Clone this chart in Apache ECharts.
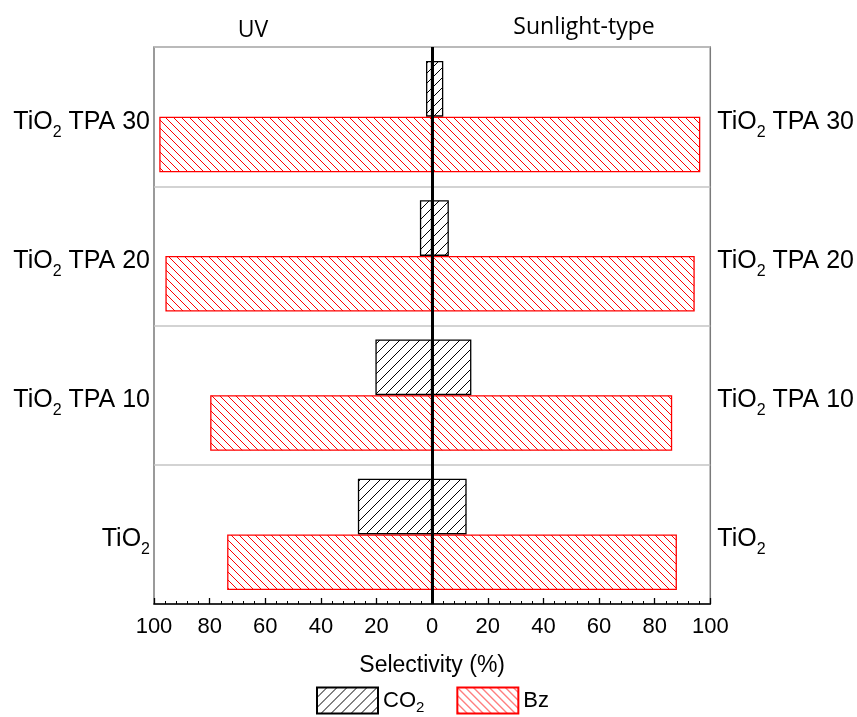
<!DOCTYPE html>
<html>
<head>
<meta charset="utf-8">
<script src="https://cdn.jsdelivr.net/npm/echarts@6/dist/echarts.min.js"></script>
<style>
html,body{margin:0;padding:0;background:#fff;}
#chart{width:857px;height:717px;}
</style>
</head>
<body>
<div id="chart"></div>
<script>
// ---- data ----
const categories = ['TiO2', 'TiO2 TPA 10', 'TiO2 TPA 20', 'TiO2 TPA 30'];
const co2UV  = [26.7, 20.4, 4.4, 2.2];
const co2Sun = [12.4, 14.1, 6.0, 4.0];
const bzUV   = [73.7, 79.8, 95.9, 98.1];
const bzSun  = [88.0, 86.3, 94.4, 96.4];
const xTicks = [-100, -80, -60, -40, -20, 0, 20, 40, 60, 80, 100];

// ---- hatch patterns ----
function hatch(color, n, dir) {
  const c = document.createElement('canvas');
  c.width = n; c.height = n;
  const g = c.getContext('2d');
  g.strokeStyle = color; g.lineWidth = 1;
  g.beginPath();
  for (let i = -1; i <= 1; i++) {
    if (dir === 'back') { g.moveTo(i * n, 0); g.lineTo(i * n + n, n); }
    else { g.moveTo(i * n, n); g.lineTo(i * n + n, 0); }
  }
  g.stroke();
  return { image: c, repeat: 'repeat' };
}
const redHatch = hatch('#ff0000', 8, 'back');
const blackHatch = hatch('#000000', 10, 'fwd');

const FONT = 'Liberation Sans';
function catLabel(v) {
  const rest = v.replace('TiO2', '');
  return '{a|TiO}{s|2}' + (rest ? '{a|' + rest + '}' : '');
}
const labelRich = {
  a: { fontSize: 25, fontFamily: FONT, color: '#000', lineHeight: 40 },
  s: { fontSize: 16, fontFamily: FONT, color: '#000', lineHeight: 20, padding: [21, 0, 0, 0] }
};

const chart = echarts.init(document.getElementById('chart'), null, { renderer: 'canvas' });

const redStyle = { color: redHatch, borderColor: '#ff0000', borderWidth: 1.3 };
const blackStyle = { color: blackHatch, borderColor: '#000000', borderWidth: 1.3 };

chart.setOption({
  animation: false,
  backgroundColor: '#fff',
  grid: { left: 154, right: 145, top: 47, bottom: 113, show: true, borderColor: '#7a7a7a', borderWidth: 1.5 },
  xAxis: {
    type: 'value', min: xTicks[0], max: xTicks[xTicks.length - 1], interval: 20,
    axisLine: { show: true, onZero: false, lineStyle: { color: '#000', width: 1.5 } },
    axisTick: { show: true, inside: true, length: 6, lineStyle: { color: '#000', width: 1.3 } },
    minorTick: { show: true, splitNumber: 5, length: 3, lineStyle: { color: '#000', width: 1 } },
    splitLine: { show: false },
    axisLabel: { fontSize: 22, fontFamily: FONT, color: '#000', margin: 12,
      formatter: v => String(Math.abs(v)) },
    name: 'Selectivity (%)', nameLocation: 'middle', nameGap: 50,
    nameTextStyle: { fontSize: 23, fontFamily: FONT, color: '#000' }
  },
  yAxis: [
    {
      type: 'category', data: categories, position: 'left',
      axisLine: { show: false }, axisTick: { show: false },
      splitLine: { show: true, lineStyle: { color: '#c4c4c4', width: 1.5 } },
      axisLabel: { margin: 4, padding: [10, 0, 0, 0], formatter: catLabel, rich: labelRich }
    },
    {
      type: 'category', data: categories, position: 'right',
      axisLine: { show: false }, axisTick: { show: false }, splitLine: { show: false },
      axisLabel: { margin: 7, padding: [10, 0, 0, 0], formatter: catLabel, rich: labelRich }
    }
  ],
  legend: {
    data: ['CO2', 'Bz'], left: 311, top: 681, itemWidth: 61, itemHeight: 26, itemGap: 32,
    icon: 'rect',
    formatter: n => n === 'CO2' ? '{a|CO}{s|2}' : '{a|Bz}',
    textStyle: { rich: {
      a: { fontSize: 22, fontFamily: FONT, color: '#000', lineHeight: 28 },
      s: { fontSize: 15, fontFamily: FONT, color: '#000', lineHeight: 16, padding: [14, 0, 0, 0] }
    } }
  },
  graphic: [
    { type: 'text', x: 253, y: 30, style: { text: 'UV', fontSize: 23, fontFamily: 'Open Sans', fill: '#000', align: 'center', verticalAlign: 'middle' } },
    { type: 'text', x: 584, y: 27, style: { text: 'Sunlight-type', fontSize: 23, fontFamily: 'Open Sans', fill: '#000', align: 'center', verticalAlign: 'middle' } }
  ],
  series: [
    { name: 'CO2', type: 'bar', stack: 'co2', data: co2UV.map(v => -v), itemStyle: blackStyle,
      barCategoryGap: '20%', barGap: '0%' },
    { name: 'CO2', type: 'bar', stack: 'co2', data: co2Sun, itemStyle: blackStyle },
    { name: 'Bz', type: 'bar', stack: 'bz', data: bzUV.map(v => -v), itemStyle: redStyle },
    { name: 'Bz', type: 'bar', stack: 'bz', data: bzSun, itemStyle: redStyle,
      markLine: { silent: true, symbol: 'none', label: { show: false },
        lineStyle: { color: '#000', width: 3, type: 'solid' }, data: [{ xAxis: 0 }] } }
  ]
});
</script>
</body>
</html>
